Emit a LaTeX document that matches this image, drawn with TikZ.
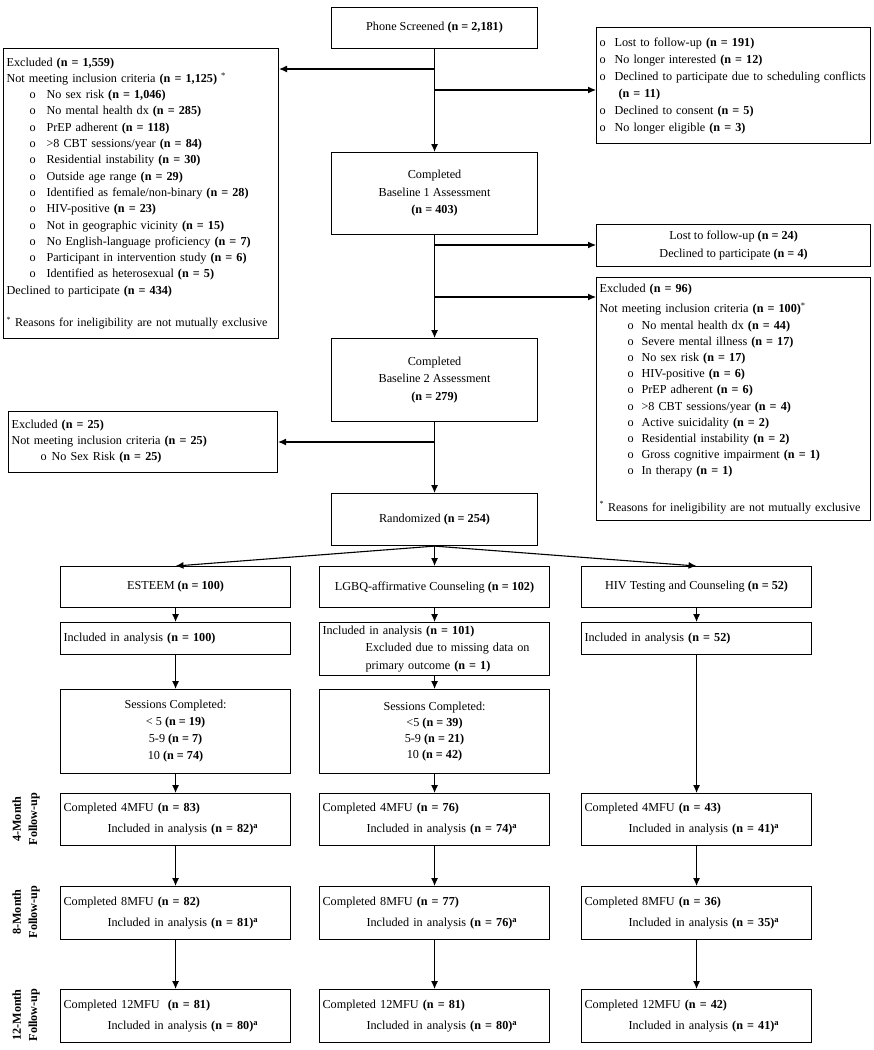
\documentclass[tikz,border=0pt]{standalone}
\usepackage{fontspec}
\setmainfont{Liberation Serif}
\usetikzlibrary{positioning,arrows.meta,calc}
\newcommand{\nval}[1]{\textbf{(n = #1)}}
\newcommand{\bitem}[3]{\hspace*{#1}\makebox[#2][l]{o}\mbox{#3}}
\newcommand{\supa}{\textsuperscript{\textbf{a}}}
\newcommand{\inelig}{\mbox{\fontsize{12}{16}\selectfont\textsuperscript{*} Reasons for ineligibility are not mutually exclusive}}

\begin{document}
\begin{tikzpicture}[x=1pt,y=-1pt,>={Latex[length=8pt,width=7pt]},line width=1.1pt,
  box/.style={draw,rectangle,anchor=north west,inner xsep=3pt,inner ysep=0pt,font=\fontsize{12.2}{16.3}\selectfont},
  cbox/.style={box,align=center},
  lbox/.style={box,align=left},
  ls/.style={font=\fontsize{12.2}{#1}\selectfont},
  lab/.style={rotate=90,align=center,font=\fontsize{12.2}{16.3}\selectfont\bfseries}]
\useasboundingbox (0,0) rectangle (874,1050);

  \node[cbox,minimum width=206pt,minimum height=41pt] (phone) at (331,7) {Phone Screened \nval{2,181}};
  \node[lbox,minimum width=275pt,minimum height=290pt,text width=269pt] (exc1) at (3,48) {Excluded \nval{1,559}\\
    Not meeting inclusion criteria \nval{1,125} \textsuperscript{*}\\
    \bitem{23pt}{17pt}{No sex risk \nval{1,046}}\\
    \bitem{23pt}{17pt}{No mental health dx \nval{285}}\\
    \bitem{23pt}{17pt}{PrEP adherent \nval{118}}\\
    \bitem{23pt}{17pt}{>8 CBT sessions/year \nval{84}}\\
    \bitem{23pt}{17pt}{Residential instability \nval{30}}\\
    \bitem{23pt}{17pt}{Outside age range \nval{29}}\\
    \bitem{23pt}{17pt}{Identified as female/non-binary \nval{28}}\\
    \bitem{23pt}{17pt}{HIV-positive \nval{23}}\\
    \bitem{23pt}{17pt}{Not in geographic vicinity \nval{15}}\\
    \bitem{23pt}{17pt}{No English-language proficiency \nval{7}}\\
    \bitem{23pt}{17pt}{Participant in intervention study \nval{6}}\\
    \bitem{23pt}{17pt}{Identified as heterosexual \nval{5}}\\
    Declined to participate \nval{434}\\[16.3pt]
    \inelig};
  \node[lbox,ls=17pt,minimum width=274pt,minimum height=116pt,text width=268pt] (exc2) at (596,27) {\bitem{0pt}{15pt}{Lost to follow-up \nval{191}}\\
    \bitem{0pt}{15pt}{No longer interested \nval{12}}\\
    \bitem{0pt}{15pt}{Declined to participate due to scheduling conflicts}\\
    \hspace*{19pt}\nval{11}\\
    \bitem{0pt}{15pt}{Declined to consent \nval{5}}\\
    \bitem{0pt}{15pt}{No longer eligible \nval{3}}};

  \node[cbox,ls=17.5pt,minimum width=206pt,minimum height=82pt] (bone) at (331,152) {Completed\\Baseline 1 Assessment\\\nval{403}};
  \node[cbox,ls=18pt,minimum width=274pt,minimum height=42pt] (lost) at (596,224) {Lost to follow-up \nval{24}\\Declined to participate \nval{4}};
  \node[lbox,ls=16.2pt,minimum width=274pt,minimum height=243pt,text width=268pt] (exc3) at (596,277) {Excluded \nval{96}\\[4pt]
    Not meeting inclusion criteria \nval{100}\textsuperscript{*}\\
    \bitem{28pt}{14pt}{No mental health dx \nval{44}}\\
    \bitem{28pt}{14pt}{Severe mental illness \nval{17}}\\
    \bitem{28pt}{14pt}{No sex risk \nval{17}}\\
    \bitem{28pt}{14pt}{HIV-positive \nval{6}}\\
    \bitem{28pt}{14pt}{PrEP adherent \nval{6}}\\
    \bitem{28pt}{14pt}{>8 CBT sessions/year \nval{4}}\\
    \bitem{28pt}{14pt}{Active suicidality \nval{2}}\\
    \bitem{28pt}{14pt}{Residential instability \nval{2}}\\
    \bitem{28pt}{14pt}{Gross cognitive impairment \nval{1}}\\
    \bitem{28pt}{14pt}{In therapy \nval{1}}\\[20pt]
    \inelig};
  \node[cbox,ls=17.5pt,minimum width=206pt,minimum height=83pt] (btwo) at (331,338) {Completed\\Baseline 2 Assessment\\\nval{279}};
  \node[lbox,ls=16pt,minimum width=269pt,minimum height=61pt,text width=263pt] (exc4) at (8,411) {Excluded \nval{25}\\
    Not meeting inclusion criteria \nval{25}\\
    \bitem{29pt}{11pt}{No Sex Risk \nval{25}}};
  \node[cbox,minimum width=206pt,minimum height=52pt] (rand) at (331,493) {Randomized \nval{254}};

  \node[cbox,minimum width=230pt,minimum height=41pt] (arm1) at (60,566) {ESTEEM \nval{100}};
  \node[cbox,minimum width=230pt,minimum height=41pt] (arm2) at (319,566) {LGBQ-affirmative Counseling \nval{102}};
  \node[cbox,minimum width=230pt,minimum height=41pt] (arm3) at (581,566) {HIV Testing and Counseling \nval{52}};

  \node[lbox,minimum width=230pt,minimum height=32pt,text width=224pt] (inc1) at (60,622) {Included in analysis \nval{100}};
  \node[lbox,ls=17.5pt,minimum width=230pt,minimum height=53pt,text width=224pt] (inc2) at (319,622) {Included in analysis \nval{101}\\
    \hspace*{43pt}Excluded due to missing data on\\
    \hspace*{43pt}primary outcome \nval{1}};
  \node[lbox,minimum width=230pt,minimum height=32pt,text width=224pt] (inc3) at (581,622) {Included in analysis \nval{52}};

  \node[cbox,ls=17pt,minimum width=230pt,minimum height=84pt] (ses1) at (60,689) {Sessions Completed:\\< 5 \nval{19}\\5-9 \nval{7}\\10 \nval{74}};
  \node[cbox,ls=16pt,minimum width=230pt,minimum height=84pt] (ses2) at (319,689) {Sessions Completed:\\<5 \nval{39}\\5-9 \nval{21}\\10 \nval{42}};

  \node[lbox,ls=21pt,minimum width=230pt,minimum height=52pt,text width=224pt] (fa1) at (60,793) {Completed 4MFU \nval{83}\\\hspace*{44pt}Included in analysis \nval{82}\supa};
  \node[lbox,ls=21pt,minimum width=230pt,minimum height=52pt,text width=224pt] (fa2) at (319,793) {Completed 4MFU \nval{76}\\\hspace*{44pt}Included in analysis \nval{74}\supa};
  \node[lbox,ls=21pt,minimum width=230pt,minimum height=52pt,text width=224pt] (fa3) at (581,793) {Completed 4MFU \nval{43}\\\hspace*{44pt}Included in analysis \nval{41}\supa};
  \node[lbox,ls=21pt,minimum width=230pt,minimum height=53pt,text width=224pt] (fb1) at (60,886) {Completed 8MFU \nval{82}\\\hspace*{44pt}Included in analysis \nval{81}\supa};
  \node[lbox,ls=21pt,minimum width=230pt,minimum height=53pt,text width=224pt] (fb2) at (319,886) {Completed 8MFU \nval{77}\\\hspace*{44pt}Included in analysis \nval{76}\supa};
  \node[lbox,ls=21pt,minimum width=230pt,minimum height=53pt,text width=224pt] (fb3) at (581,886) {Completed 8MFU \nval{36}\\\hspace*{44pt}Included in analysis \nval{35}\supa};
  \node[lbox,ls=21pt,minimum width=230pt,minimum height=53pt,text width=224pt] (fc1) at (60,989) {Completed 12MFU~ \nval{81}\\\hspace*{44pt}Included in analysis \nval{80}\supa};
  \node[lbox,ls=21pt,minimum width=230pt,minimum height=53pt,text width=224pt] (fc2) at (319,989) {Completed 12MFU \nval{81}\\\hspace*{44pt}Included in analysis \nval{80}\supa};
  \node[lbox,ls=21pt,minimum width=230pt,minimum height=53pt,text width=224pt] (fc3) at (581,989) {Completed 12MFU \nval{42}\\\hspace*{44pt}Included in analysis \nval{41}\supa};

  \node[lab] (lfa) at (26,819) {4-Month\\Follow-up};
  \node[lab] (lfb) at (26,912) {8-Month\\Follow-up};
  \node[lab] (lfc) at (26,1015) {12-Month\\Follow-up};

  \coordinate (s1) at (434,69);
  \coordinate (s2) at (434,90);
  \coordinate (s3) at (434,245);
  \coordinate (s4) at (434,297);
  \coordinate (s5) at (434,442);

  \draw[->] (phone) -- (bone);
  \draw[->] (s1) -- (s1 -| exc1.east);
  \draw[->] (s2) -- (s2 -| exc2.west);
  \draw[->] (bone) -- (btwo);
   \draw[->] (s3) -- (s3 -| lost.west);
   \draw[->] (s4) -- (s4 -| exc3.west);
  \draw[->] (btwo) -- (rand);
   \draw[->] (s5) -- (s5 -| exc4.east);
  \draw[->] (rand.south) -- (arm1.north);
  \draw[->] (rand) -- (arm2);
  \draw[->] (rand.south) -- (arm3.north);
  \draw[->] (arm1) -- (inc1);
  \draw[->] (arm2) -- (inc2);
  \draw[->] (arm3) -- (inc3);
  \draw[->] (inc1) -- (ses1);
  \draw[->] (inc2) -- (ses2);
  \draw[->] (ses1) -- (fa1);
  \draw[->] (ses2) -- (fa2);
  \draw[->] (inc3) -- (fa3);
  \draw[->] (fa1) -- (fb1);
  \draw[->] (fa2) -- (fb2);
  \draw[->] (fa3) -- (fb3);
  \draw[->] (fb1) -- (fc1);
  \draw[->] (fb2) -- (fc2);
  \draw[->] (fb3) -- (fc3);
\end{tikzpicture}
\end{document}
